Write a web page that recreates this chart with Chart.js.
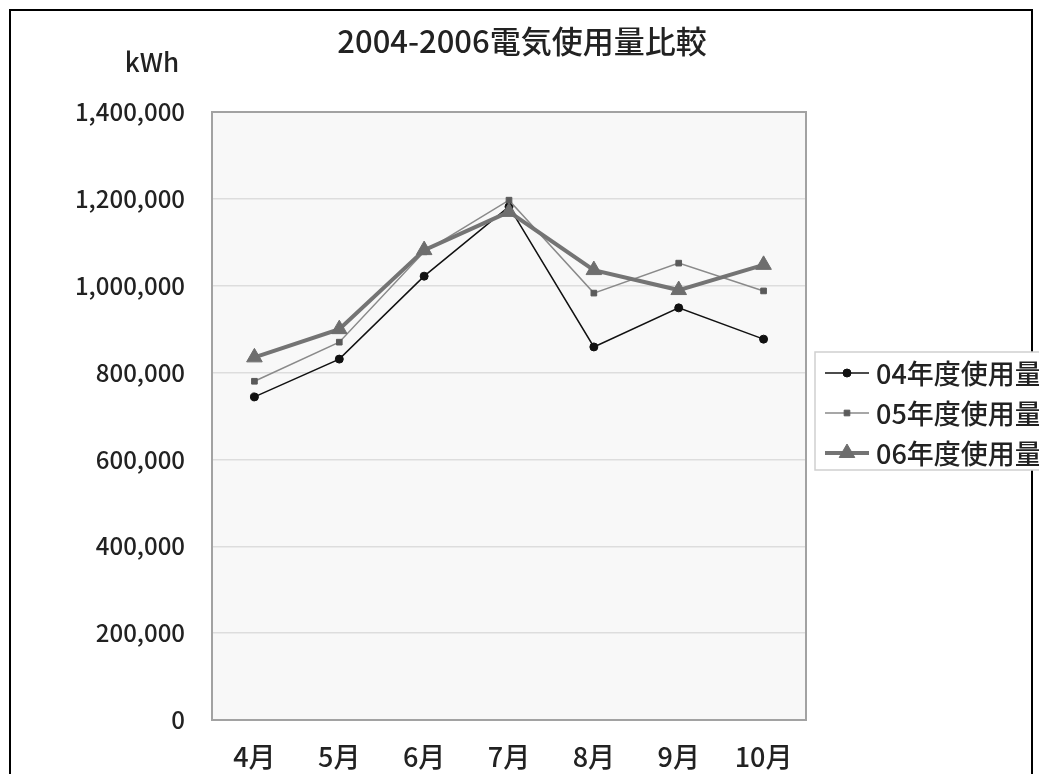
<!DOCTYPE html>
<html lang="ja">
<head>
<meta charset="utf-8">
<title>2004-2006電気使用量比較</title>
<script src="https://cdn.jsdelivr.net/npm/chart.js@4/dist/chart.umd.min.js"></script>
<style>
  html, body { margin: 0; padding: 0; background: #ffffff; }
  #wrap { width: 1039px; height: 774px; overflow: hidden; }
</style>
</head>
<body>
<div id="wrap"><canvas id="c" width="1039" height="774"></canvas></div>
<script>
// Monthly electricity use (kWh), April to October
const months = ['4月', '5月', '6月', '7月', '8月', '9月', '10月'];
const use04 = [744000, 831000, 1022000, 1182000, 859000, 949000, 877000];
const use05 = [780000, 870000, 1078000, 1197000, 983000, 1052000, 988000];
const use06 = [835000, 900000, 1082000, 1170000, 1036000, 990000, 1048000];
const seriesNames = ['04年度使用量', '05年度使用量', '06年度使用量'];
const yTicks = [0, 200000, 400000, 600000, 800000, 1000000, 1200000, 1400000];

const titleText = '2004-2006電気使用量比較';
const unitText = 'kWh';
const FONT = '"Noto Sans CJK JP", "Noto Sans", sans-serif';
const WEIGHT = '500';

const styles = [
  { color: '#111111', point: 'circle', radius: 4, width: 1.5, pointColor: '#111111' },
  { color: '#8a8a8a', point: 'rect', radius: 4, width: 1.5, pointColor: '#5a5a5a' },
  { color: '#747474', point: 'triangle', radius: 9, width: 4, pointColor: '#6e6e6e' }
];

const seriesData = [use04, use05, use06];

const datasets = seriesData.map((d, i) => ({
  label: seriesNames[i],
  data: d,
  borderColor: styles[i].color,
  borderWidth: styles[i].width,
  pointStyle: styles[i].point,
  pointRadius: styles[i].radius,
  pointBackgroundColor: styles[i].pointColor,
  pointBorderColor: styles[i].pointColor,
  pointBorderWidth: 1,
  tension: 0,
  fill: false
})).reverse();

// Outer frame, plot background, title, unit label and legend box
const decorations = {
  id: 'decorations',
  beforeDraw(chart) {
    const { ctx, chartArea: a } = chart;
    ctx.save();
    ctx.fillStyle = '#ffffff';
    ctx.fillRect(0, 0, chart.width, chart.height);
    ctx.strokeStyle = '#000000';
    ctx.lineWidth = 2;
    ctx.strokeRect(10, 10, 1022, 820);
    ctx.fillStyle = '#f8f8f8';
    ctx.fillRect(a.left, a.top, a.right - a.left, a.bottom - a.top);
    ctx.restore();
  },
  beforeDatasetsDraw(chart) {
    const { ctx, chartArea: a } = chart;
    ctx.save();
    ctx.strokeStyle = '#a2a2a2';
    ctx.lineWidth = 2;
    ctx.strokeRect(a.left, a.top, a.right - a.left, a.bottom - a.top);
    ctx.restore();
  },
  afterDraw(chart) {
    const { ctx } = chart;
    ctx.save();
    ctx.fillStyle = '#222222';
    ctx.textBaseline = 'middle';
    ctx.textAlign = 'center';
    ctx.font = WEIGHT + ' 31px ' + FONT;
    ctx.fillText(titleText, 522, 41);
    ctx.font = WEIGHT + ' 26px ' + FONT;
    ctx.fillText(unitText, 152, 62);

    // legend
    const bx = 815, by = 352, bw = 240, bh = 118;
    ctx.fillStyle = '#ffffff';
    ctx.fillRect(bx, by, bw, bh);
    ctx.strokeStyle = '#cfcfcf';
    ctx.lineWidth = 1.5;
    ctx.strokeRect(bx, by, bw, bh);
    const rows = [373, 413, 453];
    seriesNames.forEach((name, i) => {
      const s = styles[i];
      const y = rows[i];
      ctx.strokeStyle = s.color;
      ctx.lineWidth = s.width;
      ctx.beginPath();
      ctx.moveTo(825, y);
      ctx.lineTo(869, y);
      ctx.stroke();
      ctx.fillStyle = s.pointColor;
      ctx.strokeStyle = s.pointColor;
      ctx.lineWidth = 1;
      Chart.helpers.drawPoint(ctx, { pointStyle: s.point, radius: s.radius, borderWidth: 1 }, 847, y);
      ctx.fillStyle = '#222222';
      ctx.textAlign = 'left';
      ctx.font = WEIGHT + ' 27px ' + FONT;
      ctx.fillText(name, 876, y + 1);
    });
    ctx.restore();
  }
};

new Chart(document.getElementById('c'), {
  type: 'line',
  data: { labels: months, datasets },
  options: {
    responsive: false,
    animation: false,
    layout: { padding: { left: 20, right: 233, top: 112, bottom: 0 } },
    plugins: {
      legend: { display: false },
      title: { display: false },
      tooltip: { enabled: false }
    },
    scales: {
      x: {
        offset: true,
        grid: { display: false, drawTicks: false, offset: true },
        border: { display: false },
        ticks: {
          color: '#222222',
          font: { family: FONT, size: 27, weight: WEIGHT },
          padding: 21,
          maxRotation: 0
        },
        afterFit(scale) { scale.height = 54; }
      },
      y: {
        min: 0,
        max: 1400000,
        afterBuildTicks(scale) { scale.ticks = yTicks.map(v => ({ value: v })); },
        grid: { color: '#dddddd', lineWidth: 1.5, drawTicks: false },
        border: { display: false },
        ticks: {
          color: '#222222',
          font: { family: FONT, size: 24, weight: WEIGHT },
          padding: 27,
          callback: v => Number(v).toLocaleString('en-US')
        },
        afterFit(scale) { scale.width = 192; }
      }
    }
  },
  plugins: [decorations]
});
</script>
</body>
</html>
